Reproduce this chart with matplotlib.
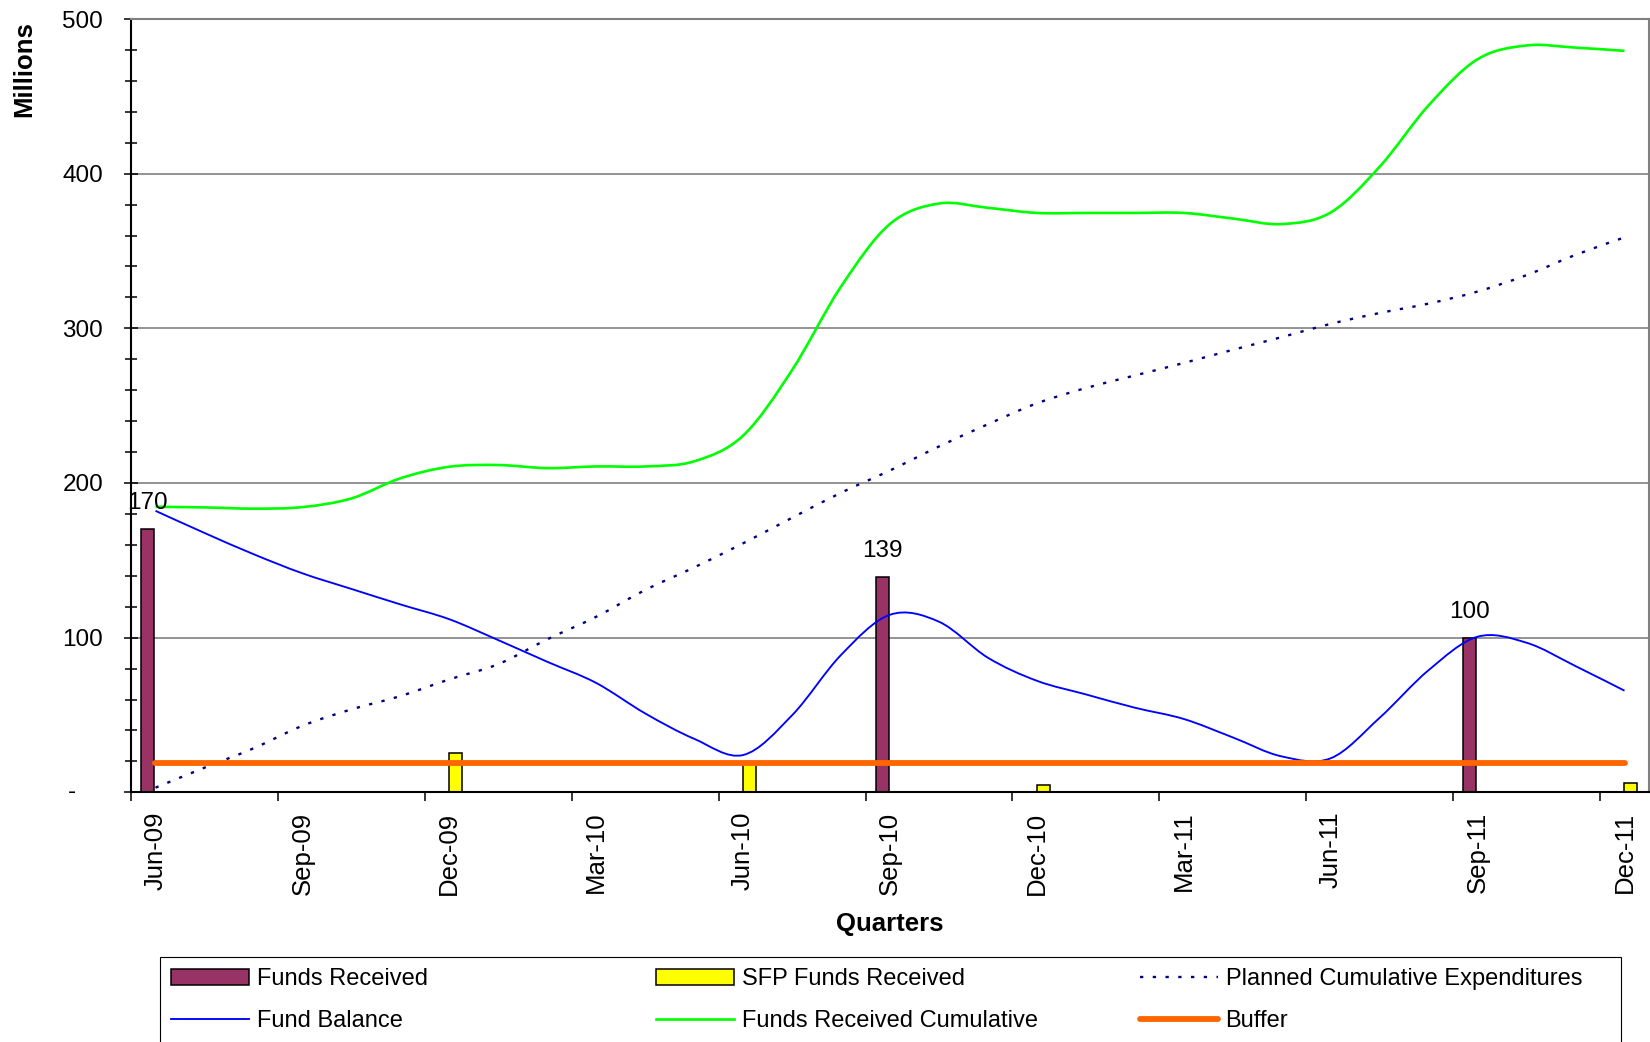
import numpy as np
import pandas as pd
import matplotlib
matplotlib.use('Agg')
import matplotlib.pyplot as plt
from matplotlib.patches import Rectangle, PathPatch
from matplotlib.lines import Line2D
from matplotlib.path import Path
from matplotlib.ticker import MultipleLocator, FuncFormatter
import matplotlib.transforms as mtransforms

plt.rcParams['font.family'] = ['Liberation Sans', 'DejaVu Sans']

# monthly categories Jun-09 .. Dec-11
months = list(pd.date_range('2009-06-01', periods=31, freq='MS').strftime('%b-%y'))

# values in millions
funds_received = [170, 0, 0, 0, 0, 0, 0, 0, 0, 0, 0, 0, 0, 0, 0, 139,
                  0, 0, 0, 0, 0, 0, 0, 0, 0, 0, 0, 100, 0, 0, 0]
sfp_funds = [0, 0, 0, 0, 0, 0, 25.5, 0, 0, 0, 0, 0, 18.5, 0, 0, 0,
             0, 0, 5, 0, 0, 0, 0, 0, 0, 0, 0, 0, 0, 0, 6]
planned = [3, 15.9, 28.4, 43, 53.6, 62.2, 73, 82.9, 98.9, 113.5, 130.8,
           145.4, 161, 177.5, 193.7, 208.1, 223.6, 238, 251.5, 261.4, 269.5,
           277.6, 286.1, 294.3, 302.9, 309.9, 316, 323.8, 334.4, 347.5, 358.8]
balance = [182, 167.7, 154, 141.6, 131.5, 121.5, 111.9, 98.4, 84.4, 70.7, 51,
           34.6, 24.1, 49.8, 88.8, 114.8, 110.3, 87, 72.1, 63.3, 54.7,
           47.4, 35.5, 23.2, 22, 48.2, 79, 100.6, 96.7, 81.6, 65.7]
cumulative = [184.6, 184.2, 183.4, 184.4, 190, 203, 210.5, 211.6, 209.6, 210.7,
              210.7, 214, 230.6, 273, 327, 367.5, 380.7, 377.9, 374.6, 374.6,
              374.6, 374.6, 371, 367.4, 374.9, 404.5, 444.2, 474, 482.9, 481.5, 479.4]
buffer = [19] * 31


def smooth_path(xs, ys):
    # Excel style "smoothed line": cubic bezier through every data point
    p = np.column_stack([xs, ys]).astype(float)
    ext = np.vstack([p[0], p, p[-1]])
    verts = [p[0]]
    codes = [Path.MOVETO]
    for i in range(len(p) - 1):
        c1 = p[i] + (ext[i + 2] - ext[i]) / 6
        c2 = p[i + 1] - (ext[i + 3] - ext[i + 1]) / 6
        verts += [c1, c2, p[i + 1]]
        codes += [Path.CURVE4] * 3
    return Path(verts, codes)


W, H = 1650, 1042
fig = plt.figure(figsize=(W / 100, H / 100), dpi=100)
ax = fig.add_axes([131 / W, 1 - 792.3 / H, 1518 / W, (792.3 - 19) / H])

x = np.arange(len(months))
b1 = ax.bar(x - 0.16, funds_received, 0.27, color='#993366', edgecolor='black',
            linewidth=1.1, label='Funds Received', zorder=2)
b2 = ax.bar(x + 0.13, sfp_funds, 0.27, color='#FFFF00', edgecolor='black',
            linewidth=1.1, label='SFP Funds Received', zorder=2)

line_styles = [
    (planned, dict(color='#000080', lw=1.7, linestyle=(0, (1.4, 4.0))), 'Planned Cumulative Expenditures'),
    (balance, dict(color='#0000FF', lw=1.35, linestyle='-'), 'Fund Balance'),
    (cumulative, dict(color='#00FF00', lw=1.9, linestyle='-'), 'Funds Received Cumulative'),
]
proxies = {}
for ys, st, name in line_styles:
    ax.add_patch(PathPatch(smooth_path(x, ys), fill=False, edgecolor=st['color'],
                           lw=st['lw'], linestyle=st['linestyle'], zorder=3))
    proxies[name] = Line2D([], [], color=st['color'], lw=st['lw'],
                           linestyle=st['linestyle'], label=name)

l_buf, = ax.plot(x, buffer, color='#FF6600', lw=4.2, solid_capstyle='round',
                 label='Buffer', zorder=4)

# value labels on the funds received bars
for rect, v in zip(b1, funds_received):
    if v > 0:
        ax.annotate(f'{v:.0f}', xy=(rect.get_x() + rect.get_width() / 2, v),
                    xytext=(0, 14.5), textcoords='offset points',
                    ha='center', va='baseline', fontsize=17.5)

ax.set_xlim(-0.5, 30.5)
ax.set_ylim(0, 500)

# y axis
ax.set_yticks(np.arange(0, 501, 100))
ax.yaxis.set_minor_locator(MultipleLocator(20))
ax.yaxis.set_major_formatter(FuncFormatter(lambda v, p: '' if v == 0 else f'{v:.0f}'))
ax.tick_params(axis='y', which='major', direction='inout', length=10, width=1.1,
               pad=15, labelsize=17.5)
ax.tick_params(axis='y', which='minor', direction='inout', length=8.5, width=1.1)
ax.text(-0.036, 0, '-', transform=mtransforms.blended_transform_factory(ax.transAxes, ax.transData),
        ha='right', va='center', fontsize=17.5)
ax.grid(axis='y', which='major', color='#808080', lw=1.2)
ax.set_axisbelow(True)

# x axis: ticks on quarter boundaries, labels on the month
ax.set_xticks(np.arange(-0.5, 30, 3))
ax.set_xticklabels([])
ax.set_xticks(np.arange(0, 31, 3), minor=True)
ax.set_xticklabels([months[i] for i in range(0, 31, 3)], minor=True, rotation=90)
ax.tick_params(axis='x', which='major', direction='out', length=6.5, width=1.1)
ax.tick_params(axis='x', which='minor', length=0, pad=14, labelsize=18.5)

for s in ['left', 'bottom']:
    ax.spines[s].set_color('black')
    ax.spines[s].set_linewidth(1.5)
for s in ['top', 'right']:
    ax.spines[s].set_color('#808080')
    ax.spines[s].set_linewidth(1.5)

fig.text(24.5 / W, 1 - 21 / H, 'Millions', rotation=90, ha='center', va='top',
         fontsize=18.5, fontweight='bold')
fig.text(890 / W, 1 - 924 / H, 'Quarters', ha='center', va='center',
         fontsize=18.5, fontweight='bold')

# legend: three columns inside one box running off the bottom
cols = [([b1, proxies['Fund Balance']], 170.7),
        ([b2, proxies['Funds Received Cumulative']], 655.6),
        ([proxies['Planned Cumulative Expenditures'], l_buf], 1139.6)]
for handles, x0 in cols:
    fig.legend(handles, [h.get_label() for h in handles], loc='upper left',
               bbox_to_anchor=(x0 / W, 1 - 968 / H), frameon=False, fontsize=17,
               handlelength=3.3, handleheight=0.65, handletextpad=0.34,
               labelspacing=0.86, borderpad=0, borderaxespad=0)
fig.add_artist(Rectangle((160 / W, -0.02), (1621 - 160) / W, 1 - 957 / H + 0.02,
                         transform=fig.transFigure, fill=False, edgecolor='black', lw=0.8))

fig.savefig('out.png', dpi=100)
